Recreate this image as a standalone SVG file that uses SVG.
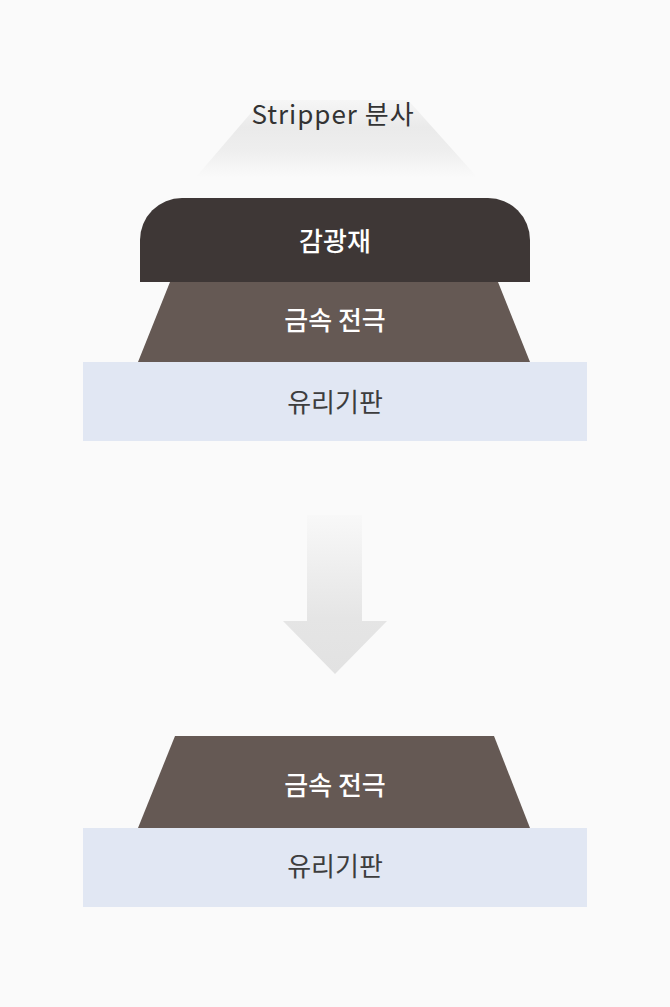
<svg xmlns="http://www.w3.org/2000/svg" width="670" height="1007" viewBox="0 0 670 1007">
<defs>
<linearGradient id="spray" x1="0" y1="0" x2="0" y2="1">
<stop offset="0" stop-color="#f6f6f6"/>
<stop offset="0.35" stop-color="#eaeaea"/>
<stop offset="0.65" stop-color="#eeeeee"/>
<stop offset="1" stop-color="#fafafa"/>
</linearGradient>
<linearGradient id="arrowg" gradientUnits="userSpaceOnUse" x1="0" y1="515" x2="0" y2="674">
<stop offset="0" stop-color="#f8f8f8"/>
<stop offset="0.65" stop-color="#e5e5e5"/>
<stop offset="1" stop-color="#e2e2e2"/>
</linearGradient>
<style>
text{font-family:"Noto Sans CJK KR","Noto Sans",sans-serif;text-anchor:middle;dominant-baseline:central;font-size:26px}
.w{fill:#ffffff;font-weight:500}
.d{fill:#3d3d3d}
.pr{fill:#3e3736}
.me{fill:#655954}
.gl{fill:#e1e7f3}
</style>
</defs>
<rect width="670" height="1007" fill="#fafafa"/>
<g id="spray-node">
<polygon points="262,100 408,100 477,177 196,177" fill="url(#spray)"/>
<text x="333" y="112" class="d" style="fill:#333;letter-spacing:1px">Stripper 분사</text>
</g>
<g id="glass-top">
<rect x="83" y="362" width="504" height="79" class="gl"/>
<text x="335" y="400" class="d">유리기판</text>
</g>
<g id="metal-top">
<polygon points="170,282 498,282 530,362 138,362" class="me"/>
<text x="335" y="318" class="w">금속 전극</text>
</g>
<g id="photoresist">
<path d="M140,282 V240 A42,42 0 0 1 182,198 H488 A42,42 0 0 1 530,240 V282 Z" class="pr"/>
<text x="335" y="239" class="w">감광재</text>
</g>
<g id="connectors">
<polygon points="307,515 362,515 362,621 387,621 335,674 283,621 307,621" fill="url(#arrowg)"/>
</g>
<g id="glass-bottom">
<rect x="83" y="828" width="504" height="79" class="gl"/>
<text x="335" y="864" class="d">유리기판</text>
</g>
<g id="metal-bottom">
<polygon points="175,736 494,736 530,828 138,828" class="me"/>
<text x="335" y="783" class="w">금속 전극</text>
</g>
</svg>
